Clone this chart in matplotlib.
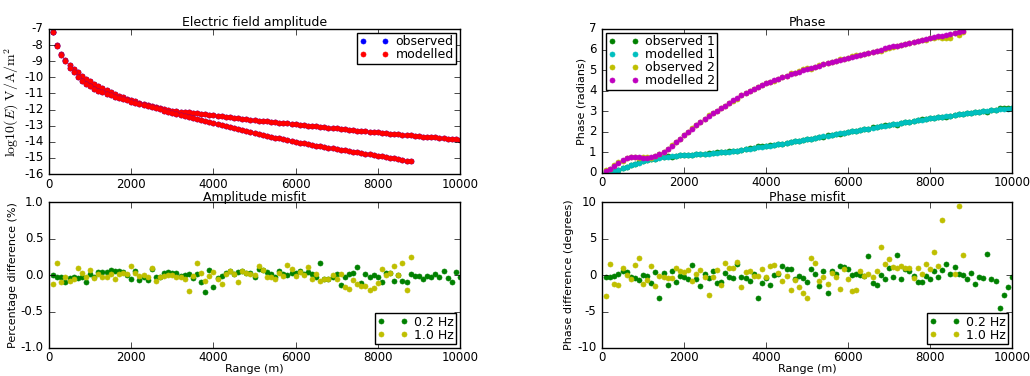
"""
Observed vs modelled CSEM electric field: amplitude, phase and their misfits
at 0.2 Hz and 1.0 Hz.
"""

import numpy as np
import matplotlib
matplotlib.use('Agg')
import matplotlib.pyplot as plt

# Receiver ranges (m): 0.2 Hz goes out to 10 km, 1.0 Hz to 8.8 km.
range_02 = np.arange(100, 10001, 100)
range_10 = np.arange(100, 8801, 100)

# Modelled log10 amplitude, 0.2 Hz.
amp_mod_02 = [
    -7.20, -8.02, -8.58, -8.90, -9.25, -9.50, -9.70, -9.90, -10.10, -10.25,
    -10.40, -10.55, -10.68, -10.80, -10.92, -11.03, -11.13, -11.23, -11.32, -11.41,
    -11.49, -11.57, -11.64, -11.71, -11.78, -11.84, -11.90, -11.96, -12.01, -12.06,
    -12.09, -12.12, -12.15, -12.18, -12.21, -12.24, -12.27, -12.30, -12.33, -12.36,
    -12.39, -12.42, -12.45, -12.48, -12.50, -12.53, -12.56, -12.59, -12.62, -12.65,
    -12.68, -12.70, -12.73, -12.76, -12.78, -12.81, -12.84, -12.86, -12.89, -12.91,
    -12.94, -12.97, -12.99, -13.02, -13.04, -13.07, -13.10, -13.12, -13.15, -13.17,
    -13.20, -13.22, -13.25, -13.27, -13.30, -13.32, -13.35, -13.37, -13.40, -13.42,
    -13.44, -13.47, -13.49, -13.51, -13.54, -13.56, -13.58, -13.60, -13.62, -13.65,
    -13.67, -13.69, -13.71, -13.73, -13.76, -13.78, -13.80, -13.82, -13.84, -13.86,
]

# Modelled log10 amplitude, 1.0 Hz.
amp_mod_10 = [
    -7.20, -8.05, -8.62, -9.00, -9.40, -9.70, -9.98, -10.20, -10.40, -10.55,
    -10.70, -10.82, -10.93, -11.03, -11.12, -11.20, -11.28, -11.36, -11.43, -11.50,
    -11.57, -11.64, -11.71, -11.78, -11.85, -11.92, -11.99, -12.06, -12.13, -12.20,
    -12.27, -12.34, -12.41, -12.47, -12.54, -12.60, -12.67, -12.73, -12.80, -12.86,
    -12.92, -12.98, -13.04, -13.10, -13.16, -13.22, -13.28, -13.34, -13.40, -13.46,
    -13.52, -13.57, -13.63, -13.68, -13.74, -13.79, -13.84, -13.90, -13.95, -14.00,
    -14.05, -14.10, -14.14, -14.19, -14.23, -14.28, -14.32, -14.37, -14.41, -14.45,
    -14.49, -14.53, -14.57, -14.61, -14.65, -14.69, -14.73, -14.77, -14.81, -14.85,
    -14.89, -14.93, -14.98, -15.03, -15.08, -15.12, -15.16, -15.20,
]

# Modelled phase (radians), 0.2 Hz.
phase_mod_02 = [
    0.02, 0.05, 0.10, 0.16, 0.23, 0.30, 0.37, 0.44, 0.50, 0.56,
    0.61, 0.66, 0.70, 0.73, 0.76, 0.79, 0.81, 0.83, 0.85, 0.86,
    0.87, 0.88, 0.90, 0.91, 0.93, 0.94, 0.96, 0.98, 1.00, 1.02,
    1.04, 1.07, 1.09, 1.12, 1.15, 1.18, 1.21, 1.24, 1.27, 1.30,
    1.33, 1.36, 1.39, 1.43, 1.46, 1.50, 1.53, 1.57, 1.60, 1.64,
    1.67, 1.71, 1.74, 1.78, 1.81, 1.85, 1.88, 1.92, 1.95, 1.99,
    2.02, 2.06, 2.09, 2.13, 2.16, 2.20, 2.23, 2.27, 2.30, 2.33,
    2.37, 2.40, 2.43, 2.47, 2.50, 2.53, 2.56, 2.59, 2.62, 2.65,
    2.68, 2.71, 2.74, 2.77, 2.79, 2.82, 2.85, 2.87, 2.90, 2.92,
    2.95, 2.97, 3.00, 3.02, 3.04, 3.07, 3.09, 3.11, 3.13, 3.15,
]

# Modelled phase (radians), 1.0 Hz.
phase_mod_10 = [
    0.10, 0.20, 0.35, 0.50, 0.62, 0.72, 0.78, 0.78, 0.76, 0.75,
    0.75, 0.77, 0.82, 0.90, 1.02, 1.18, 1.33, 1.50, 1.67, 1.84,
    2.00, 2.16, 2.32, 2.47, 2.62, 2.76, 2.90, 3.03, 3.15, 3.27,
    3.40, 3.53, 3.65, 3.77, 3.89, 4.00, 4.10, 4.19, 4.27, 4.35,
    4.43, 4.51, 4.59, 4.66, 4.73, 4.80, 4.87, 4.93, 4.99, 5.05,
    5.11, 5.17, 5.22, 5.28, 5.33, 5.39, 5.44, 5.50, 5.55, 5.60,
    5.65, 5.70, 5.75, 5.80, 5.85, 5.90, 5.95, 6.00, 6.05, 6.10,
    6.15, 6.19, 6.24, 6.28, 6.33, 6.37, 6.42, 6.46, 6.51, 6.55,
    6.59, 6.64, 6.68, 6.73, 6.77, 6.82, 6.87, 6.92,
]

# Amplitude misfit (%).
amp_misfit_02 = [
    0.00, -0.02, -0.02, -0.09, -0.04, -0.02, -0.04, -0.03, -0.10, 0.02,
    -0.03, 0.04, 0.04, 0.04, 0.07, 0.05, 0.05, 0.04, 0.00, -0.06,
    0.05, -0.07, -0.02, -0.07, 0.08, -0.02, -0.03, 0.03, 0.04, 0.03,
    0.03, -0.01, 0.00, 0.01, -0.04, 0.01, -0.09, -0.23, 0.07, -0.16,
    -0.04, -0.01, 0.03, 0.06, 0.01, 0.04, 0.05, 0.03, 0.03, -0.03,
    0.08, 0.07, 0.04, 0.02, -0.02, 0.06, 0.02, 0.00, 0.03, 0.03,
    0.06, 0.01, 0.04, 0.02, -0.03, 0.16, -0.06, -0.05, -0.03, 0.01,
    -0.14, -0.02, 0.01, 0.03, 0.11, -0.11, 0.01, -0.03, 0.00, -0.02,
    -0.10, 0.03, 0.03, -0.08, 0.00, -0.08, -0.09, 0.02, -0.01, -0.01,
    -0.06, -0.01, -0.03, 0.02, -0.02, 0.05, -0.04, -0.09, 0.04, -0.02,
]
amp_misfit_10 = [
    -0.12, 0.16, -0.10, -0.02, -0.08, -0.05, 0.09, 0.03, -0.03, 0.07,
    -0.04, 0.02, -0.03, -0.03, 0.02, -0.06, 0.02, 0.03, 0.02, 0.12,
    0.03, -0.01, 0.00, -0.03, 0.09, -0.08, -0.03, -0.01, 0.00, 0.00,
    -0.02, -0.02, -0.05, -0.22, -0.01, 0.17, 0.03, -0.08, -0.01, 0.04,
    -0.06, -0.12, 0.01, 0.05, 0.02, -0.09, 0.05, 0.03, 0.01, 0.00,
    0.13, 0.07, -0.03, -0.03, -0.05, 0.03, -0.01, 0.14, 0.08, -0.01,
    0.04, 0.00, 0.11, -0.05, 0.02, -0.08, -0.05, -0.06, 0.00, -0.05,
    0.01, -0.16, -0.19, -0.07, -0.12, -0.15, -0.15, -0.21, -0.18, -0.11,
    0.08, 0.00, 0.03, 0.12, 0.00, 0.16, -0.21, 0.25,
]

# Phase misfit (degrees).
phase_misfit_02 = [
    -0.2, -0.3, -0.1, 0.2, 0.5, 0.4, -0.2, -0.4, -0.7, 0.0,
    -0.1, -1.1, 0.4, -3.1, 0.3, -1.4, 0.6, -0.9, -0.1, -0.3,
    -0.6, 1.4, -0.6, -1.5, 0.2, -0.4, 0.6, -1.1, -0.9, 0.3,
    -0.2, -0.4, 1.5, -0.2, -0.4, -0.8, 0.2, -3.1, -1.1, -0.4,
    -1.3, 0.0, 0.1, 1.3, 0.8, 0.8, -0.5, -0.1, -0.4, -1.0,
    0.8, 0.1, -1.5, 0.6, -2.5, 0.6, 0.2, 1.2, 1.1, 0.8,
    0.0, 0.1, 0.0, -0.1, 2.6, -1.1, -1.3, 0.0, -0.6, 0.9,
    -0.2, 2.7, -0.6, 0.8, 0.5, -0.1, -1.0, -1.0, -0.1, -0.6,
    0.6, -0.3, 0.7, 1.5, 0.1, 1.1, 0.1, 0.0, -0.5, 0.3,
    -1.2, -0.2, -0.4, 2.9, -0.6, -0.8, -4.5, -2.7, -1.6, -0.2,
]
phase_misfit_10 = [
    -2.9, 1.5, -1.2, -1.3, 0.9, 0.0, -0.6, 1.4, 2.3, -1.2,
    -0.7, 1.2, -1.5, -0.1, -0.2, -0.4, -0.4, 0.9, 0.5, 0.4,
    0.7, -0.8, 0.2, 0.7, -0.3, -2.7, -0.2, 0.7, -1.3, 1.6,
    0.9, 0.9, 1.8, -1.7, 0.4, 0.5, -0.1, -0.1, 0.8, -0.3,
    1.3, 1.4, 0.3, -0.8, -0.1, -2.1, -0.7, -1.7, -2.5, -3.1,
    2.4, 1.6, -0.8, -0.2, -1.2, 0.3, -0.3, -1.9, 0.8, -0.6,
    -2.2, -2.0, 0.5, -0.1, 0.2, -0.2, 0.5, 3.8, 1.5, 2.2,
    1.1, 1.0, 1.3, 0.9, 1.0, -0.4, 0.9, 0.1, 1.5, 0.8,
    3.1, 1.3, 7.5, 10.8, 12.5, 0.2, 9.5, 2.7,
]

# Observed data follow from modelled data and the misfits.
amp_obs_02 = np.array(amp_mod_02) + np.log10(1 + np.array(amp_misfit_02) / 100)
amp_obs_10 = np.array(amp_mod_10) + np.log10(1 + np.array(amp_misfit_10) / 100)
phase_obs_02 = np.array(phase_mod_02) - np.radians(phase_misfit_02)
phase_obs_10 = np.array(phase_mod_10) - np.radians(phase_misfit_10)

plt.style.use('classic')
plt.rcParams.update({
    'figure.facecolor': 'white',
    'savefig.facecolor': 'white',
    'font.size': 8,
    'axes.titlesize': 9,
    'axes.labelsize': 8,
    'xtick.labelsize': 8.5,
    'ytick.labelsize': 8.5,
    'xtick.major.pad': 2.5,
    'legend.fontsize': 9,
    'axes.unicode_minus': False,
    'mathtext.fontset': 'cm',
})

fig = plt.figure(figsize=(10.3, 3.76), dpi=100)
ax_amp = fig.add_axes([0.0476, 0.537, 0.399, 0.386])
ax_pha = fig.add_axes([0.5845, 0.540, 0.398, 0.383])
ax_amf = fig.add_axes([0.0476, 0.0745, 0.399, 0.388])
ax_pmf = fig.add_axes([0.5845, 0.0745, 0.398, 0.388])

dot = dict(linestyle='none', marker='o', markersize=3.6)
leg = dict(numpoints=2, borderpad=0.2, labelspacing=0.0, handlelength=2.4,
           handletextpad=0.5, borderaxespad=0.3)


def dots(ax, x, y, color, label=None):
    """Plot a series as small filled dots."""
    ax.plot(x, y, color=color, mec=color, label=label, **dot)


# Electric field amplitude.
dots(ax_amp, range_02, amp_obs_02, 'b', 'observed')
dots(ax_amp, range_02, amp_mod_02, 'r', 'modelled')
dots(ax_amp, range_10, amp_obs_10, 'b')
dots(ax_amp, range_10, amp_mod_10, 'r')
ax_amp.set_xlim(0, 10000)
ax_amp.set_ylim(-16, -7)
ax_amp.set_title('Electric field amplitude', pad=2)
ax_amp.set_ylabel(r'$\mathrm{log10}(E)\ \mathrm{V/A/m^2}$', fontsize=10)
ax_amp.legend(loc='upper right', **leg)

# Phase.
dots(ax_pha, range_02, phase_obs_02, 'g', 'observed 1')
dots(ax_pha, range_02, phase_mod_02, 'c', 'modelled 1')
dots(ax_pha, range_10, phase_obs_10, 'y', 'observed 2')
dots(ax_pha, range_10, phase_mod_10, 'm', 'modelled 2')
ax_pha.set_xlim(0, 10000)
ax_pha.set_ylim(0, 7)
ax_pha.set_title('Phase', pad=2)
ax_pha.set_ylabel('Phase (radians)')
ax_pha.legend(loc='upper left', **leg)

# Amplitude misfit.
dots(ax_amf, range_02, amp_misfit_02, 'g', '0.2 Hz')
dots(ax_amf, range_10, amp_misfit_10, 'y', '1.0 Hz')
ax_amf.set_xlim(0, 10000)
ax_amf.set_ylim(-1, 1)
ax_amf.set_yticks([-1.0, -0.5, 0.0, 0.5, 1.0])
ax_amf.set_title('Amplitude misfit', pad=1)
ax_amf.set_xlabel('Range (m)')
ax_amf.set_ylabel('Percentage difference (%)')
ax_amf.legend(loc='lower right', **leg)

# Phase misfit.
dots(ax_pmf, range_02, phase_misfit_02, 'g', '0.2 Hz')
dots(ax_pmf, range_10, phase_misfit_10, 'y', '1.0 Hz')
ax_pmf.set_xlim(0, 10000)
ax_pmf.set_ylim(-10, 10)
ax_pmf.set_yticks([-10, -5, 0, 5, 10])
ax_pmf.set_title('Phase misfit', pad=1)
ax_pmf.set_xlabel('Range (m)')
ax_pmf.set_ylabel('Phase difference (degrees)')
ax_pmf.legend(loc='lower right', **leg)

for ax in (ax_amp, ax_pha, ax_amf, ax_pmf):
    ax.set_xticks([0, 2000, 4000, 6000, 8000, 10000])
    ax.xaxis.labelpad = 0
    ax.yaxis.labelpad = 2

fig.savefig('out.png', dpi=100)
